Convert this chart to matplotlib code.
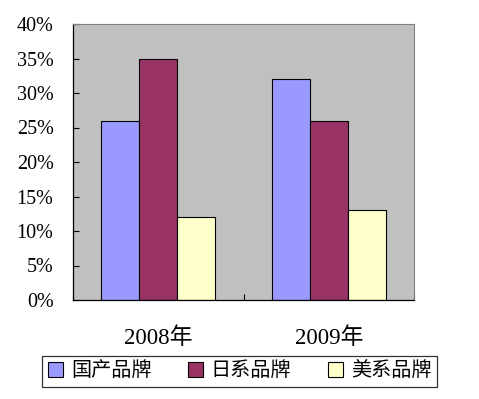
import matplotlib
matplotlib.use("Agg")
from matplotlib import pyplot as plt
from matplotlib.ticker import FuncFormatter
import numpy as np

years = ["2008年", "2009年"]
brands = ["国产品牌", "日系品牌", "美系品牌"]
domestic = [26, 32]
japanese = [35, 26]
american = [12, 13]
y_ticks = [0, 5, 10, 15, 20, 25, 30, 35, 40]

colors = ["#9999FF", "#993366", "#FFFFCC"]
fonts = ["Liberation Serif", "Noto Sans CJK SC", "DejaVu Sans"]


def main():
    plt.rcParams['font.family'] = fonts
    fig = plt.figure(figsize=(4.79, 3.99), dpi=100)
    ax = fig.add_axes([73 / 479, 99 / 399, 341 / 479, 276 / 399])
    ax.set_facecolor("#C0C0C0")

    x = np.arange(len(years))
    w = 1 / 4.5
    series = [domestic, japanese, american]
    for i, vals in enumerate(series):
        ax.bar(x + (i - 1) * w, vals, w, color=colors[i], edgecolor="black",
               linewidth=0.8, label=brands[i], zorder=2)

    ax.set_xlim(-0.5, len(years) - 0.5)
    ax.set_ylim(0, 40)
    ax.set_yticks(y_ticks)
    ax.yaxis.set_major_formatter(FuncFormatter(lambda v, p: f"{v:.0f}%"))
    ax.tick_params(axis='y', direction='in', length=4, width=0.8, labelsize=14.5, pad=14)

    ax.set_xticks(x)
    ax.set_xticklabels(years)
    ax.set_xticks(np.arange(-0.5, len(years)), minor=True)
    ax.tick_params(axis='x', which='major', length=0, labelsize=16.5, pad=20)
    ax.tick_params(axis='x', which='minor', direction='in', length=4, width=0.8)

    for s in ['left', 'bottom']:
        ax.spines[s].set_color("black")
        ax.spines[s].set_linewidth(0.9)
    ax.spines['top'].set_color("#808080")
    ax.spines['right'].set_color("#808080")

    leg = fig.legend(loc='center', bbox_to_anchor=(0.5, 27.5 / 399), ncol=3,
                     fontsize=14.5, frameon=True, fancybox=False, edgecolor="black",
                     handlelength=0.75, handleheight=0.75, handletextpad=0.4,
                     columnspacing=1.8, borderpad=0.3)
    leg.get_frame().set_linewidth(0.9)

    fig.savefig("out.png", dpi=100)


if __name__ == "__main__":
    main()
